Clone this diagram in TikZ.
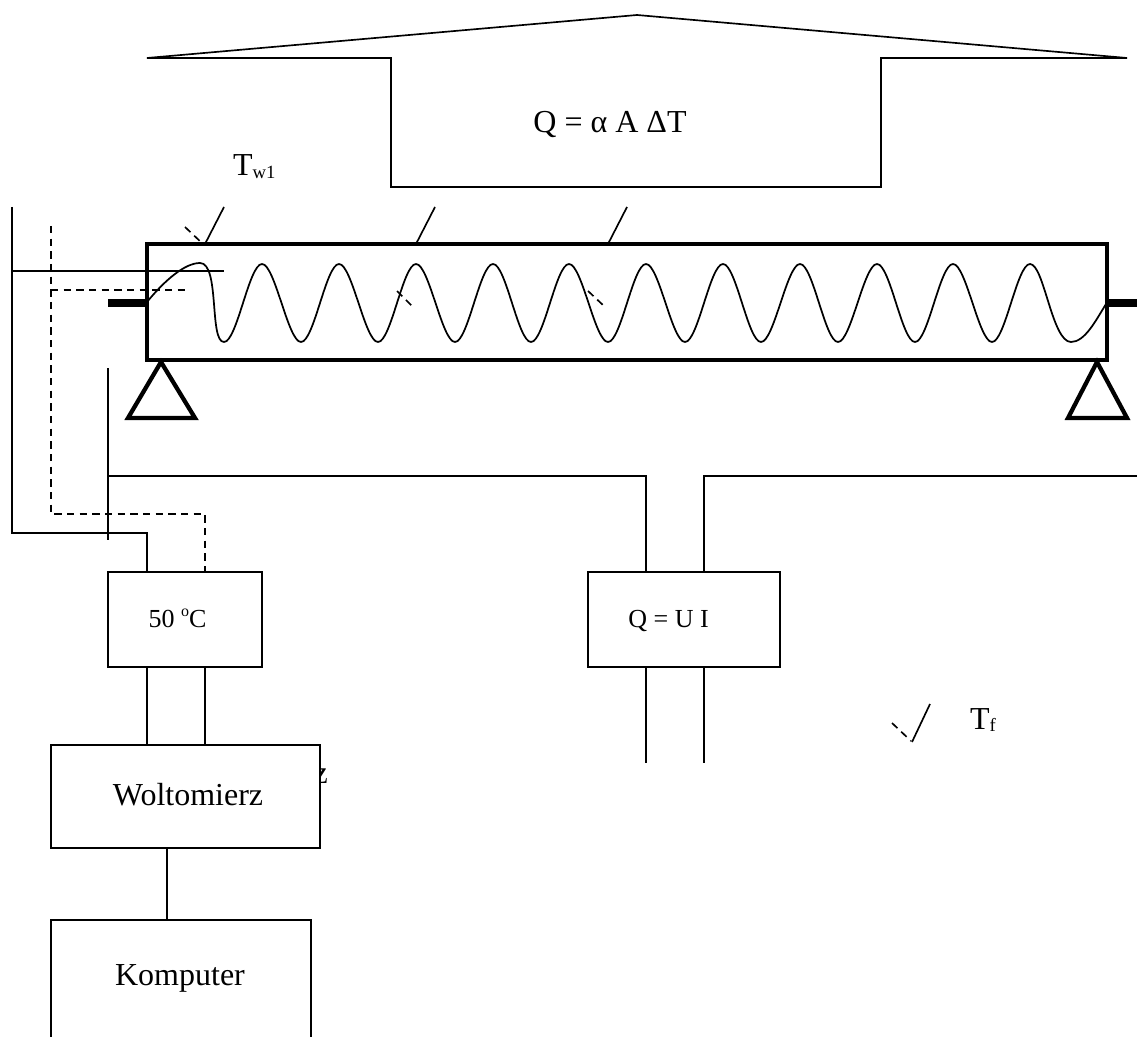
\documentclass[tikz,border=0pt]{standalone}
\usepackage{fontspec}
\setmainfont{Liberation Serif}
\usetikzlibrary{calc}
\newcommand{\pxfont}[1]{\fontsize{#1}{#1}\selectfont}
\tikzset{
  x=0.75pt,y=-0.75pt,
  wire/.style={draw=black,line width=1.25pt},
  dashwire/.style={draw=black,line width=1.25pt,dash pattern=on 5.6pt off 3.9pt},
  boxA/.style={draw=black,fill=white,line width=1.3pt,inner sep=0pt,outer sep=0pt,rectangle},
  boxB/.style={draw=black,line width=2.1pt,inner sep=0pt,outer sep=0pt,rectangle},
  beam/.style={draw=black,line width=3pt,inner sep=0pt,outer sep=0pt,rectangle,minimum width=720pt,minimum height=87pt},
  stub/.style={draw=black,line width=6pt},
  support/.style={draw=black,line width=3.2pt,line join=miter},
  txt/.style={inner sep=0pt,outer sep=0pt,text=black},
  big/.style={txt,font=\pxfont{24},anchor=base},
  small/.style={txt,font=\pxfont{19.5},anchor=base},
}
\begin{document}
\begin{tikzpicture}
\useasboundingbox (0,0) rectangle (1137,1037);
\clip (0,0) rectangle (1137,1037);
% house-shaped arrow
\coordinate (roofapex) at (637,15);
\draw[wire] (147,58) -- (roofapex) -- (1127,58) -- (881,58) -- (881,187) -- (391,187) -- (391,58) -- cycle;
\node[big] (qform) at (610,133) {Q = α A ΔT};
% tube
\node[beam] (tube) at (627,302) {};
\coordinate (coilL) at (147,302);
\coordinate (coilR) at (1106,304);
\coordinate (stubLin) at (147,303);
\coordinate (stubRin) at (1107,303);
\draw[stub] (108,303) -- (stubLin);
\draw[stub] (stubRin) -- (1137,303);
\draw[support] (161,362) -- (128,418) -- (195,418) -- cycle;
\draw[support] (1097,362) -- (1068,418) -- (1127,418) -- cycle;
% heating coil
\draw[line width=1.3pt] (coilL)
  .. controls (165,280) and (185,263) .. (200,263)
  .. controls (220,263) and (209,342) .. (224,342)
  .. controls (237,342) and (249,264) .. (262,264)
  .. controls (275,264) and (288,342) .. (301,342)
  .. controls (314,342) and (326,264) .. (339,264)
  .. controls (352,264) and (365,342) .. (378,342)
  .. controls (391,342) and (403,264) .. (416,264)
  .. controls (429,264) and (442,342) .. (455,342)
  .. controls (468,342) and (480,264) .. (493,264)
  .. controls (506,264) and (518,342) .. (531,342)
  .. controls (544,342) and (556,264) .. (569,264)
  .. controls (582,264) and (595,342) .. (608,342)
  .. controls (621,342) and (633,264) .. (646,264)
  .. controls (659,264) and (672,342) .. (685,342)
  .. controls (698,342) and (710,264) .. (723,264)
  .. controls (736,264) and (748,342) .. (761,342)
  .. controls (774,342) and (787,264) .. (800,264)
  .. controls (813,264) and (825,342) .. (838,342)
  .. controls (851,342) and (864,264) .. (877,264)
  .. controls (890,264) and (902,342) .. (915,342)
  .. controls (928,342) and (940,264) .. (953,264)
  .. controls (966,264) and (979,342) .. (992,342)
  .. controls (1005,342) and (1017,264) .. (1030,264)
  .. controls (1044,264) and (1052,342) .. (1071,342)
  .. controls (1085,342) and (1096,320) .. (coilR);
% thermocouples
\draw[wire] (224,207) -- (205,244);
\draw[dashwire] (185,227) -- (203,244);
\draw[wire] (435,207) -- (416,244);
\draw[dashwire] (397,291) -- (412,306);
\draw[wire] (627,207) -- (608,244);
\draw[dashwire] (588,291) -- (604,306);
\draw[wire] (930,704) -- (912,742);
\draw[dashwire] (892,723) -- (911,741);
% labels
\node[txt,anchor=base west] (tw) at (233,176) {\pxfont{24}T\raisebox{-2.2pt}{\pxfont{14}w1}};
\node[txt,anchor=base west] (tf) at (970,729) {\pxfont{24}T\raisebox{-2.2pt}{\pxfont{14}f}};
% boxes
\node[txt,font=\pxfont{24},anchor=base west] (zrest) at (313.5,783) {z};
\node[boxA,minimum width=115.5pt,minimum height=71.25pt] (temp) at (185,619.5) {};
\node[small] (templ) at (177.5,627) {50 \raisebox{0.4em}{\pxfont{12}o}C};
\node[boxB,minimum width=144pt,minimum height=71.25pt] (power) at (684,619.5) {};
\node[small] (powerl) at (668.5,627) {Q = U I};
\node[boxA,minimum width=201.75pt,minimum height=77.25pt] (volt) at (185.5,796.5) {};
\node[big] (voltl) at (188,805) {Woltomierz};
\node[boxA,minimum width=195pt,minimum height=94pt] (comp) at (181,982.5) {};
\node[big] (compl) at (180,985) {Komputer};
% free wire ends
\coordinate (a1) at (147,533);
\coordinate (a2) at (205,514);
\coordinate (wTop) at (12,207);
\coordinate (dTop) at (51,226);
\coordinate (h1) at (646,476);
\coordinate (h2) at (704,476);
\draw[wire] (wTop) -- (12,533) -- (a1) -- (a1 |- temp.north);
\draw[wire] (12,271) -- (224,271);
\draw[dashwire] (dTop) -- (51,514) -- (a2) -- (a2 |- temp.north);
\draw[dashwire] (51,290) -- (185,290);
\draw[wire] (108,368) -- (108,540);
\draw[wire] (108,476) -- (h1) -- (h1 |- power.north);
\draw[wire] (1137,476) -- (h2) -- (h2 |- power.north);
\draw[wire] (h1 |- power.south) -- (646,763);
\draw[wire] (h2 |- power.south) -- (704,763);
\draw[wire] (a1 |- temp.south) -- (a1 |- volt.north);
\draw[wire] (a2 |- temp.south) -- (a2 |- volt.north);
\draw[wire] (volt.south -| 167,0) -- (comp.north -| 167,0);
\end{tikzpicture}
\end{document}
